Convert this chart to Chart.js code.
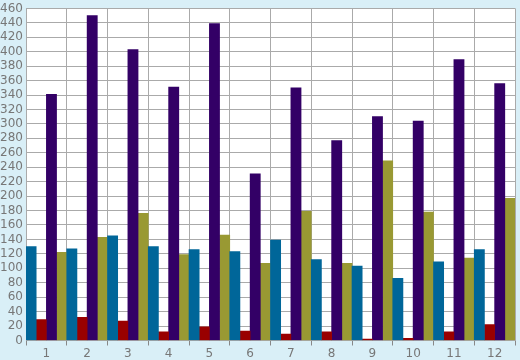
<!DOCTYPE html>
<html>
<head>
<meta charset="utf-8">
<script src="https://cdn.jsdelivr.net/npm/chart.js@4"></script>
<style>
  html, body { margin: 0; padding: 0; background: #d9eff7; }
  #wrap { width: 520px; height: 360px; }
</style>
</head>
<body>
<div id="wrap"><canvas id="c" width="520" height="360"></canvas></div>
<script>
const labels = ['1','2','3','4','5','6','7','8','9','10','11','12'];
const blueVals   = [130, 127, 145, 130, 126, 123, 139, 112, 103, 86, 109, 126];
const redVals    = [29, 32, 27, 12, 19, 13, 9, 12, 2, 3, 12, 22];
const purpleVals = [341, 450, 403, 351, 439, 231, 350, 277, 310, 304, 389, 356];
const oliveVals  = [122, 143, 176, 119, 146, 107, 179, 107, 249, 178, 114, 197];

// white plot area
const plotBg = {
  id: 'plotBg',
  beforeDraw(chart) {
    const a = chart.chartArea, ctx = chart.ctx;
    ctx.save();
    ctx.fillStyle = '#ffffff';
    ctx.fillRect(a.left, a.top, a.right - a.left, a.bottom - a.top);
    ctx.restore();
  }
};

function ds(label, data, color) {
  return { label: label, data: data, backgroundColor: color, borderWidth: 0,
           barPercentage: 1, categoryPercentage: 1 };
}

new Chart(document.getElementById('c'), {
  type: 'bar',
  data: {
    labels: labels,
    datasets: [
      ds('A', blueVals, '#006699'),
      ds('B', redVals, '#990000'),
      ds('C', purpleVals, '#330066'),
      ds('D', oliveVals, '#999933')
    ]
  },
  options: {
    responsive: false,
    animation: false,
    layout: { padding: { top: 0, right: 5, left: 0, bottom: 0 } },
    plugins: { legend: { display: false }, tooltip: { enabled: false } },
    scales: {
      x: {
        offset: true,
        grid: { offset: true, color: '#aaaaaa', lineWidth: 1, drawTicks: true, tickLength: 5, tickColor: '#888888' },
        border: { color: '#aaaaaa' },
        ticks: { color: '#777777', font: { family: 'DejaVu Sans', size: 12 }, padding: 1, maxRotation: 0 },
        afterFit(s) { s.height = 19.5; }
      },
      y: {
        min: 0, max: 460,
        grid: { color: '#aaaaaa', lineWidth: 1, drawTicks: false },
        border: { color: '#aaaaaa' },
        ticks: { stepSize: 20, autoSkip: false, color: '#777777', font: { family: 'DejaVu Sans', size: 12, lineHeight: 0.9 }, padding: 3 },
        afterFit(s) { s.width = 26; }
      }
    }
  },
  plugins: [plotBg]
});
</script>
</body>
</html>
